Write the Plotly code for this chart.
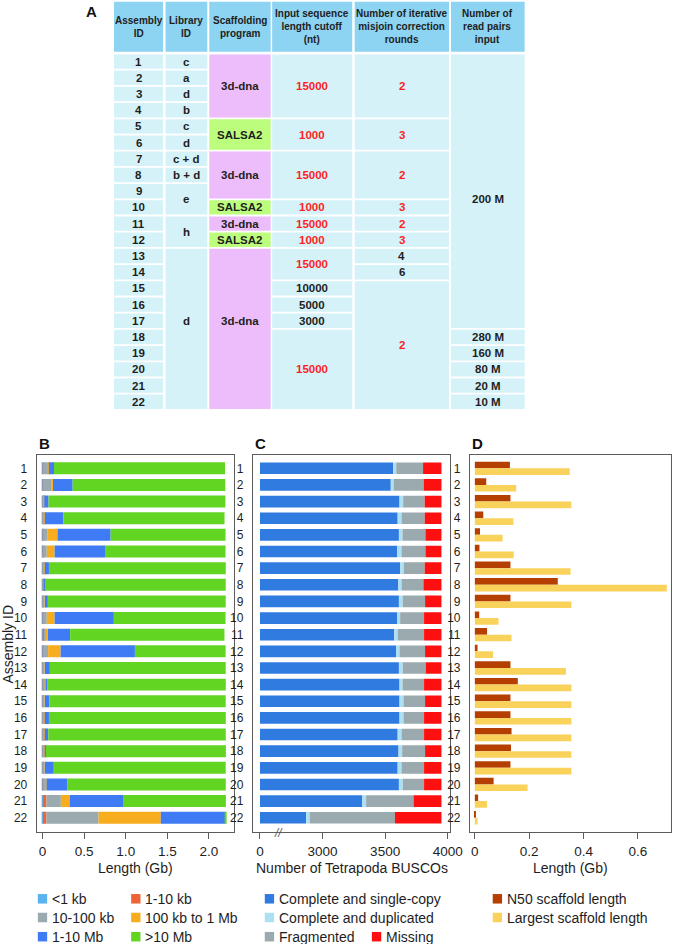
import numpy as np
import plotly.graph_objects as go

W, H = 686, 944
FONT = "Liberation Sans, Arial, Helvetica, sans-serif"
TXT = "#1e1e1e"
AXC = "#5c5c5c"
RED = "#ff1f1f"

assembly_ids = list(range(1, 23))

# ---------------- Panel A : table ----------------
table_headers = ["Assembly<br>ID", "Library<br>ID", "Scaffolding<br>program",
                 "Input sequence<br>length cutoff<br>(nt)",
                 "Number of iterative<br>misjoin correction<br>rounds",
                 "Number of<br>read pairs<br>input"]
# (first row, last row, text, highlighted in red, label row)
assembly_cells = [(i, i, str(i), False, i) for i in assembly_ids]
library_cells = [(1, 1, "c", False, 1), (2, 2, "a", False, 2), (3, 3, "d", False, 3),
                 (4, 4, "b", False, 4), (5, 5, "c", False, 5), (6, 6, "d", False, 6),
                 (7, 7, "c + d", False, 7), (8, 8, "b + d", False, 8),
                 (9, 10, "e", False, 9.5), (11, 12, "h", False, 11.5),
                 (13, 22, "d", False, 17)]
program_cells = [(1, 4, "3d-dna", False, 2.5), (5, 6, "SALSA2", False, 5.5),
                 (7, 9, "3d-dna", False, 8), (10, 10, "SALSA2", False, 10),
                 (11, 11, "3d-dna", False, 11), (12, 12, "SALSA2", False, 12),
                 (13, 22, "3d-dna", False, 17)]
cutoff_cells = [(1, 4, "15000", True, 2.5), (5, 6, "1000", True, 5.5),
                (7, 9, "15000", True, 8), (10, 10, "1000", True, 10),
                (11, 11, "15000", True, 11), (12, 12, "1000", True, 12),
                (13, 14, "15000", True, 13.5), (15, 15, "10000", False, 15),
                (16, 16, "5000", False, 16), (17, 17, "3000", False, 17),
                (18, 22, "15000", True, 20)]
rounds_cells = [(1, 4, "2", True, 2.5), (5, 6, "3", True, 5.5), (7, 9, "2", True, 8),
                (10, 10, "3", True, 10), (11, 11, "2", True, 11), (12, 12, "3", True, 12),
                (13, 13, "4", False, 13), (14, 14, "6", False, 14),
                (15, 22, "2", True, 18.5)]
readpairs_cells = [(1, 17, "200 M", False, 9.5), (18, 18, "280 M", False, 18),
                   (19, 19, "160 M", False, 19), (20, 20, "80 M", False, 20),
                   (21, 21, "20 M", False, 21), (22, 22, "10 M", False, 22)]
table_columns = [assembly_cells, library_cells, program_cells,
                 cutoff_cells, rounds_cells, readpairs_cells]
program_colors = {"3d-dna": "#ecbcfb", "SALSA2": "#bdfd7e"}

# ---------------- Panel B : scaffold size classes (Gb) ----------------
size_classes = ["<1 kb", "1-10 kb", "10-100 kb", "100 kb to 1 Mb", "1-10 Mb", ">10 Mb"]
size_colors = ["#5ab3ef", "#ef6437", "#9aaaaf", "#f8ad1f", "#3e7bf5", "#62d422"]
lt_1kb = [0.005, 0.005, 0.004, 0.004, 0.004, 0.004, 0.004, 0.004, 0.004, 0.004, 0.004,
          0.004, 0.004, 0.004, 0.004, 0.004, 0.004, 0.004, 0.004, 0.004, 0.004, 0.004]
kb1_10 = [0.003, 0.003, 0.003, 0.003, 0.003, 0.003, 0.003, 0.003, 0.003, 0.003, 0.012,
          0.003, 0.003, 0.003, 0.003, 0.003, 0.003, 0.003, 0.003, 0.003, 0.043, 0.043]
kb10_100 = [0.063, 0.102, 0.012, 0.015, 0.055, 0.044, 0.017, 0.012, 0.020, 0.044, 0.028,
            0.060, 0.020, 0.028, 0.020, 0.017, 0.017, 0.017, 0.020, 0.040, 0.173, 0.626]
kb100_1mb = [0.004, 0.016, 0.002, 0.005, 0.118, 0.094, 0.002, 0.002, 0.002, 0.094, 0.020,
             0.150, 0.002, 0.002, 0.002, 0.002, 0.002, 0.002, 0.002, 0.002, 0.106, 0.748]
mb1_10 = [0.063, 0.236, 0.051, 0.224, 0.638, 0.606, 0.051, 0.008, 0.035, 0.712, 0.268,
          0.893, 0.059, 0.024, 0.051, 0.051, 0.043, 0.016, 0.106, 0.252, 0.641, 0.775]
gt10mb = [2.055, 1.834, 2.125, 1.936, 1.381, 1.448, 2.125, 2.172, 2.137, 1.342, 1.854,
          1.090, 2.113, 2.141, 2.121, 2.125, 2.133, 2.161, 2.066, 1.901, 1.236, 0.005]
size_series = [lt_1kb, kb1_10, kb10_100, kb100_1mb, mb1_10, gt10mb]
b_tickvals = [0, 0.5, 1.0, 1.5, 2.0]
b_ticktext = ["0", "0.5", "1.0", "1.5", "2.0"]

# ---------------- Panel C : BUSCO counts ----------------
busco_cats = ["Complete and single-copy", "Complete and duplicated", "Fragmented", "Missing"]
busco_colors = ["#2f7be0", "#ace0f2", "#9aaaaf", "#ff1010"]
busco_single = [3563, 3545, 3615, 3600, 3610, 3597, 3620, 3605, 3610, 3597, 3573,
                3589, 3610, 3615, 3615, 3615, 3600, 3607, 3600, 3610, 3317, 2869]
busco_dup = [26, 23, 29, 31, 29, 34, 29, 26, 31, 23, 27,
             26, 31, 24, 32, 32, 31, 29, 31, 31, 31, 29]
busco_frag = [214, 240, 172, 185, 183, 191, 167, 175, 178, 191, 211,
              204, 183, 172, 172, 164, 180, 183, 180, 170, 379, 680]
busco_missing = [147, 142, 134, 134, 128, 128, 134, 144, 131, 139, 139,
                 131, 126, 139, 131, 139, 139, 131, 139, 139, 223, 372]
BUSCO_BREAK = 2500  # broken axis: counts below this are hidden behind the "//"
c_tickvals = [BUSCO_BREAK, 3000, 3500, 4000]
c_ticktext = ["0", "3000", "3500", "4000"]

# ---------------- Panel D : scaffold lengths (Gb) ----------------
d_names = ["N50 scaffold length", "Largest scaffold length"]
d_colors = ["#b53f00", "#f9d25c"]
n50_len = [0.129, 0.042, 0.131, 0.031, 0.019, 0.017, 0.131, 0.305, 0.131, 0.016, 0.045,
           0.010, 0.131, 0.158, 0.131, 0.131, 0.135, 0.133, 0.131, 0.069, 0.012, 0.004]
largest_len = [0.349, 0.152, 0.355, 0.142, 0.102, 0.143, 0.352, 0.706, 0.355, 0.087, 0.135,
               0.067, 0.335, 0.355, 0.355, 0.355, 0.355, 0.355, 0.355, 0.194, 0.045, 0.010]
d_tickvals = [0, 0.2, 0.4, 0.6]
d_ticktext = ["0", "0.2", "0.4", "0.6"]


# ---------------- helpers ----------------
def pxx(p):
    return p / W


def pxy(p):
    return 1 - p / H


fig = go.Figure()

# Panel B traces
cum = np.zeros(len(assembly_ids))
for name, col, vals in zip(size_classes, size_colors, size_series):
    vals = np.array(vals)
    fig.add_trace(go.Bar(y=assembly_ids, x=vals, base=cum.copy(), orientation="h",
                         marker=dict(color=col, line=dict(width=0)), width=0.72,
                         name=name, showlegend=False, xaxis="x", yaxis="y"))
    cum = cum + vals

# Panel C traces
single = np.array(busco_single, dtype=float)
dup = np.array(busco_dup, dtype=float)
frag = np.array(busco_frag, dtype=float)
miss = np.array(busco_missing, dtype=float)
c_lengths = [single - BUSCO_BREAK, dup, frag, miss]
c_bases = [np.full(len(single), BUSCO_BREAK, dtype=float), single, single + dup, single + dup + frag]
for name, col, L, B0 in zip(busco_cats, busco_colors, c_lengths, c_bases):
    fig.add_trace(go.Bar(y=assembly_ids, x=L, base=B0, orientation="h",
                         marker=dict(color=col, line=dict(width=0)), width=0.7,
                         name=name, showlegend=False, xaxis="x2", yaxis="y2"))

# Panel D traces
for name, col, vals, off in zip(d_names, d_colors, [n50_len, largest_len], [-0.4, 0.0]):
    fig.add_trace(go.Bar(y=assembly_ids, x=vals, orientation="h", width=0.4, offset=off,
                         marker=dict(color=col, line=dict(width=0)),
                         name=name, showlegend=False, xaxis="x3", yaxis="y3"))

# invisible trace to anchor table axes
fig.add_trace(go.Scatter(x=[0], y=[0], mode="markers", marker=dict(opacity=0),
                         hoverinfo="skip", showlegend=False, xaxis="x4", yaxis="y4"))

# ---------------- layout: axes ----------------
ROW_TOP_PX, ROW_PITCH = 468.3, 16.64          # row-1 centre and row pitch of B/C/D
BOX_TOP, BOX_BOT = 455.0, 832.3
y_top = 1 + (BOX_TOP - ROW_TOP_PX) / ROW_PITCH
y_bot = 1 + (BOX_BOT - ROW_TOP_PX) / ROW_PITCH

common_y = dict(range=[y_bot, y_top], domain=[pxy(BOX_BOT), pxy(BOX_TOP)],
                tickmode="array", tickvals=assembly_ids,
                ticktext=[str(i) for i in assembly_ids],
                ticks="", showline=True, mirror=True, linecolor=AXC, linewidth=1,
                showgrid=False, zeroline=False,
                tickfont=dict(family=FONT, size=12, color=TXT), ticklabelstandoff=6)
common_x = dict(ticks="outside", ticklen=6, tickcolor=AXC, tickwidth=1,
                showline=True, mirror=True, linecolor=AXC, linewidth=1,
                showgrid=False, zeroline=False, tickmode="array",
                tickfont=dict(family=FONT, size=13.5, color=TXT))


def scale_range(p_left, p_right, v0_px, v0, px_per_unit):
    return [v0 + (p_left - v0_px) / px_per_unit, v0 + (p_right - v0_px) / px_per_unit]


fig.update_layout(
    width=W, height=H, margin=dict(l=0, r=0, t=0, b=0),
    paper_bgcolor="white", plot_bgcolor="white", barmode="overlay",
    font=dict(family=FONT, color=TXT),
    xaxis=dict(domain=[pxx(37.3), pxx(238.3)], anchor="y",
               range=scale_range(37.3, 238.3, 43.3, 0.0, 84.7),
               tickvals=b_tickvals, ticktext=b_ticktext, **common_x),
    yaxis=dict(anchor="x", **common_y),
    xaxis2=dict(domain=[pxx(257.3), pxx(458.3)], anchor="y2",
                range=scale_range(257.3, 458.3, 328.3, 3000.0, 0.1274),
                tickvals=c_tickvals, ticktext=c_ticktext, **common_x),
    yaxis2=dict(anchor="x2", **common_y),
    xaxis3=dict(domain=[pxx(478.3), pxx(683.3)], anchor="y3",
                range=scale_range(478.3, 683.3, 483.3, 0.0, 276.7),
                tickvals=d_tickvals, ticktext=d_ticktext, **common_x),
    yaxis3=dict(anchor="x3", **common_y),
)

# table axes (x in pixels, y in row units)
T_ROW1_PX, T_PITCH, T_BOTTOM_PX = 61.6, 16.2, 415.0
fig.update_layout(
    xaxis4=dict(domain=[0, 1], range=[0, W], visible=False, anchor="y4", fixedrange=True),
    yaxis4=dict(domain=[pxy(T_BOTTOM_PX), 1],
                range=[1 + (T_BOTTOM_PX - T_ROW1_PX) / T_PITCH, 1 - T_ROW1_PX / T_PITCH],
                visible=False, anchor="x4", fixedrange=True),
)

shapes = []
annotations = []

# ---------------- table drawing ----------------
col_edges = [(116, 166), (168.5, 211), (213, 275.5), (277, 358.5), (361, 457), (459, 534)]
HALF = 0.444
hdr_top = 1 + (1.7 - T_ROW1_PX) / T_PITCH
hdr_bot = 1 + (51.7 - T_ROW1_PX) / T_PITCH
for (x0, x1), head, cells in zip(col_edges, table_headers, table_columns):
    shapes.append(dict(type="rect", xref="x4", yref="y4", x0=x0, x1=x1, y0=hdr_top, y1=hdr_bot,
                       fillcolor="#8dd3f2", line=dict(width=0), layer="below"))
    annotations.append(dict(xref="x4", yref="y4", x=(x0 + x1) / 2, y=(hdr_top + hdr_bot) / 2,
                            text="<b>" + head + "</b>", showarrow=False,
                            font=dict(family=FONT, size=10, color=TXT), align="center"))
    for (r0, r1, text, hi, lab) in cells:
        fill = program_colors.get(text, "#d5f2f9") if cells is program_cells else "#d5f2f9"
        shapes.append(dict(type="rect", xref="x4", yref="y4", x0=x0, x1=x1,
                           y0=r0 - HALF, y1=r1 + HALF, fillcolor=fill,
                           line=dict(width=0), layer="below"))
        annotations.append(dict(xref="x4", yref="y4", x=(x0 + x1) / 2, y=lab,
                                text="<b>" + text + "</b>", showarrow=False,
                                font=dict(family=FONT, size=11.5, color=RED if hi else TXT)))

# panel letters
for letter, x, y in [("A", 85, 12), ("B", 37.5, 443), ("C", 257.5, 443), ("D", 478.5, 443)]:
    annotations.append(dict(xref="paper", yref="paper", x=pxx(x), y=pxy(y), xanchor="left",
                            yanchor="middle", text="<b>" + letter + "</b>", showarrow=False,
                            font=dict(family=FONT, size=15, color="#111111")))

# axis titles
for text, x in [("Length (Gb)", 137.8), ("Number of Tetrapoda BUSCOs", 357.8), ("Length (Gb)", 580.8)]:
    annotations.append(dict(xref="paper", yref="paper", x=pxx(x), y=pxy(868), text=text,
                            showarrow=False, xanchor="center", yanchor="middle",
                            font=dict(family=FONT, size=14, color=TXT)))
annotations.append(dict(xref="paper", yref="paper", x=pxx(8), y=pxy(643.7), text="Assembly ID",
                        textangle=-90, showarrow=False, xanchor="center", yanchor="middle",
                        font=dict(family=FONT, size=14, color=TXT)))
# axis break mark on C
annotations.append(dict(xref="x2", yref="paper", x=2650, y=pxy(BOX_BOT + 1), text="<i>//</i>",
                        showarrow=False, xanchor="center", yanchor="middle",
                        font=dict(family=FONT, size=12, color=AXC)))

# ---------------- legends (drawn from the series lists) ----------------
LEG_ROWS = [898.8, 917.5, 936.7]
legend_layout = [
    (size_classes[0], size_colors[0], 38.5, 0), (size_classes[1], size_colors[1], 133.5, 0),
    (size_classes[2], size_colors[2], 38.5, 1), (size_classes[3], size_colors[3], 133.5, 1),
    (size_classes[4], size_colors[4], 38.5, 2), (size_classes[5], size_colors[5], 133.5, 2),
    (busco_cats[0], busco_colors[0], 269.5, 0), (busco_cats[1], busco_colors[1], 269.5, 1),
    (busco_cats[2], busco_colors[2], 269.5, 2), (busco_cats[3], busco_colors[3], 378.5, 2),
    (d_names[0], d_colors[0], 501.5, 0), (d_names[1], d_colors[1], 501.5, 1),
]
SQ = 9.5
for text, col, x, r in legend_layout:
    yc = LEG_ROWS[r]
    shapes.append(dict(type="rect", xref="paper", yref="paper", x0=pxx(x), x1=pxx(x + SQ),
                       y0=pxy(yc - SQ / 2), y1=pxy(yc + SQ / 2), fillcolor=col, line=dict(width=0)))
    annotations.append(dict(xref="paper", yref="paper", x=pxx(x + SQ + 3), y=pxy(yc), text=text,
                            showarrow=False, xanchor="left", yanchor="middle",
                            font=dict(family=FONT, size=14, color=TXT)))

fig.update_layout(shapes=shapes, annotations=annotations)
fig.write_html("out.html", config={"displayModeBar": False},
               post_script="document.body.style.margin='0px';"
                           "document.body.style.overflow='hidden';")
